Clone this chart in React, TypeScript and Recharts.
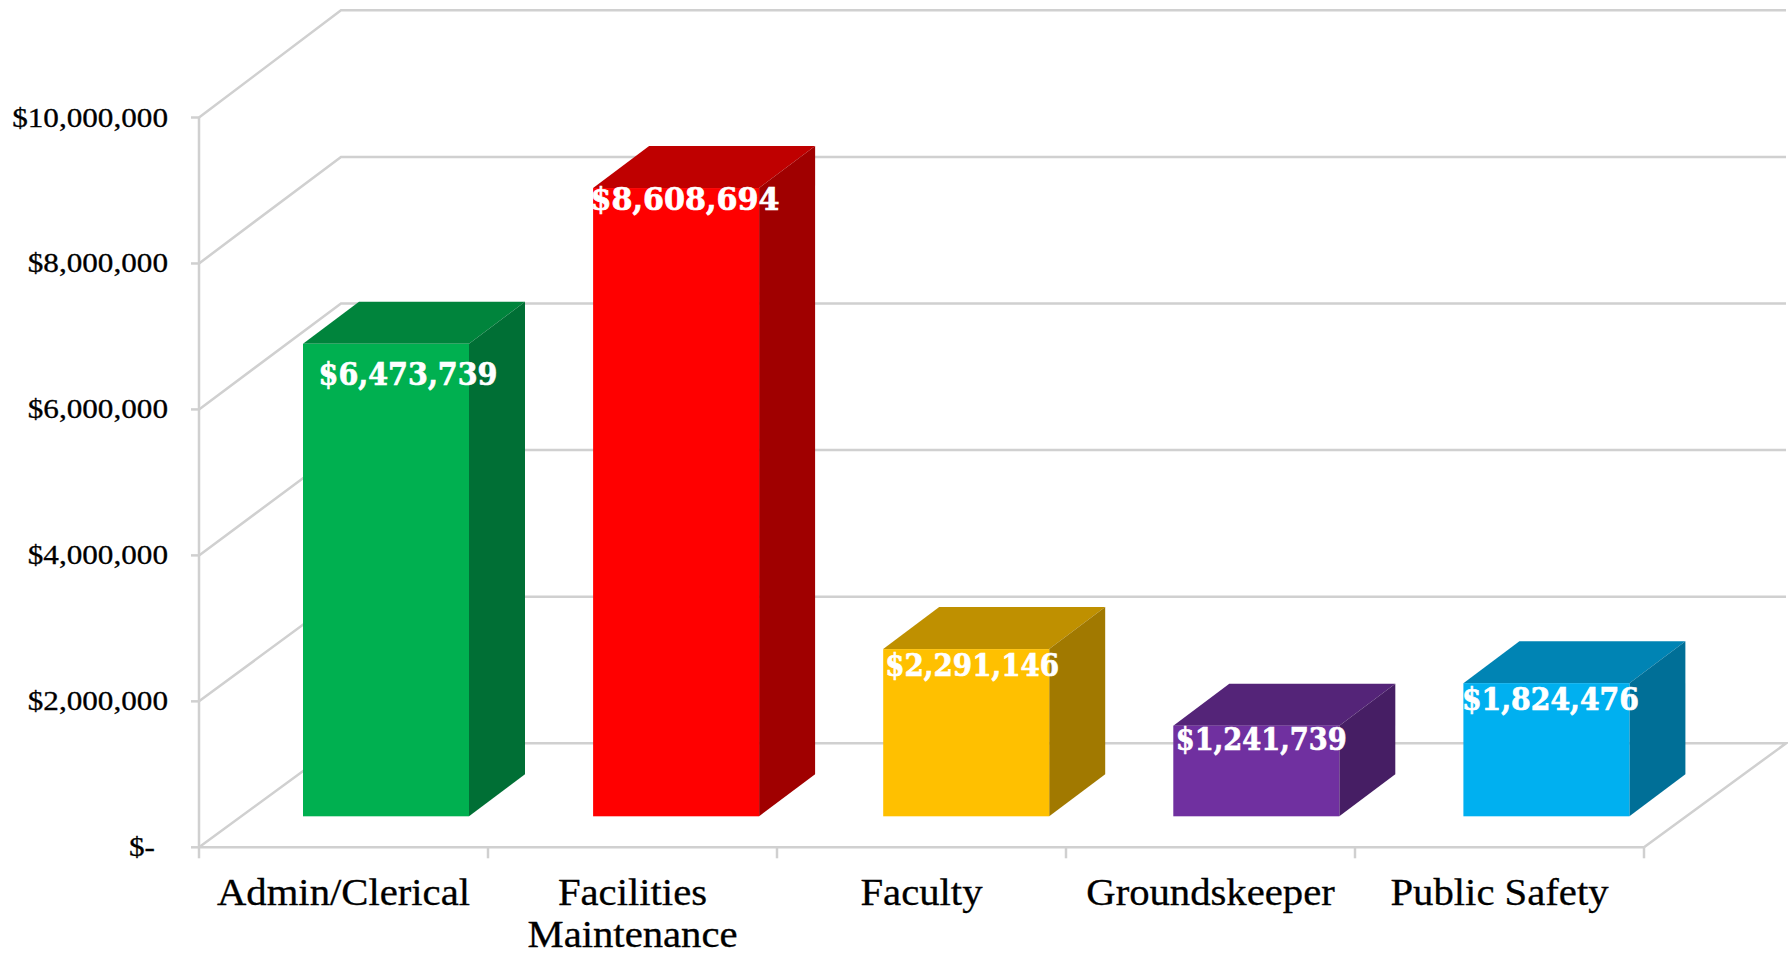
import { Bar, BarChart, CartesianGrid, LabelList, XAxis, YAxis } from "recharts"

const categories = ["Admin/Clerical", "Facilities\nMaintenance", "Faculty", "Groundskeeper", "Public Safety"]
const payroll = [6473739, 8608694, 2291146, 1241739, 1824476]
const yTicks = [0, 2000000, 4000000, 6000000, 8000000, 10000000]

// front, top and side face of each box
const frontColors = ["#00B050", "#FF0000", "#FFC000", "#7030A0", "#00B0F0"]
const topColors = ["#00843C", "#BF0000", "#BF9000", "#542478", "#0084B4"]
const sideColors = ["#006F35", "#A00000", "#A17900", "#461E64", "#006F97"]

// hand placed value labels: shift from the box front centre, drop below its top, text width
const labelDx = [22, 9, 6, 5, 4]
const labelDy = [29, 10, 15, 12, 15]
const labelWidth = [179, 189, 174, 171, 177]

const data = categories.map((name, i) => ({ name, value: payroll[i] }))

const WIDTH = 1788
const HEIGHT = 953
const PLOT_LEFT = 199
const PLOT_RIGHT = 1644
const PLOT_TOP = 117.5
const PLOT_BOTTOM = 847.3
const BAND = (PLOT_RIGHT - PLOT_LEFT) / categories.length

const WALL_DX = 142
const BOX_DX = 56
const BOX_DY = 42
const BOX_WIDTH = 166
const BOX_SHIFT_X = 42
const BOX_SHIFT_Y = 31
const BOX_SPREAD = 1.1

const GRID = "#d0d0d0"
const GRID_WIDTH = 2.5
const SERIF = "'Liberation Serif', serif"

const money = (v: number) => "$" + v.toLocaleString("en-US")

// back wall rises a touch faster than the front plane
const wallDy = (y: number) => 107.2 - (3.2 * (y - PLOT_TOP)) / (PLOT_BOTTOM - PLOT_TOP)

function depthLine(props: any) {
  const { x1, x2, y1, index } = props
  const by = y1 - wallDy(y1)
  const isFloor = Math.abs(y1 - PLOT_BOTTOM) < 1
  let d = `M${x1},${y1} L${x1 + WALL_DX},${by} L${x2 + WALL_DX},${by}`
  if (isFloor) d += ` L${x2},${y1}`
  return <path key={`wall-${index}-${y1}`} d={d} fill="none" stroke={GRID} strokeWidth={GRID_WIDTH} />
}

function Box(props: any) {
  const { x, y, height, index } = props
  const left = x + BOX_SHIFT_X + index * BOX_SPREAD
  const top = y - BOX_SHIFT_Y
  const right = left + BOX_WIDTH
  const bottom = top + height
  return (
    <g>
      <path d={`M${left},${top} L${left + BOX_DX},${top - BOX_DY} L${right + BOX_DX},${top - BOX_DY} L${right},${top} Z`} fill={topColors[index]} />
      <path d={`M${right},${top} L${right + BOX_DX},${top - BOX_DY} L${right + BOX_DX},${bottom - BOX_DY} L${right},${bottom} Z`} fill={sideColors[index]} />
      <rect x={left} y={top} width={BOX_WIDTH} height={height} fill={frontColors[index]} />
    </g>
  )
}

function ValueLabel(props: any) {
  const { x, y, value, index } = props
  const cx = x + BOX_SHIFT_X + index * BOX_SPREAD + BOX_WIDTH / 2 + labelDx[index]
  return (
    <text
      x={cx}
      y={y - BOX_SHIFT_Y + labelDy[index] + 12}
      textAnchor="middle"
      fill="#fff"
      stroke="#fff"
      strokeWidth={0.7}
      fontFamily="'DejaVu Serif', serif"
      fontWeight={700}
      fontSize={31}
      textLength={labelWidth[index]}
      lengthAdjust="spacingAndGlyphs"
    >
      {money(value)}
    </text>
  )
}

function MoneyTick(props: any) {
  const { x, y, payload } = props
  const isZero = payload.value === 0
  return (
    <text
      transform={`translate(${isZero ? x - 13 : x} ${y + 9}) scale(1.155 1)`}
      textAnchor="end"
      fontFamily={SERIF}
      fontSize={27}
      fill="#000"
      stroke="#000"
      strokeWidth={0.3}
    >
      {isZero ? "$-" : money(payload.value)}
    </text>
  )
}

function CategoryTick(props: any) {
  const { x, payload, index } = props
  const left = x - BAND / 2
  const lines = String(payload.value).split("\n")
  return (
    <g>
      <line x1={left} x2={left} y1={PLOT_BOTTOM} y2={PLOT_BOTTOM + 11} stroke={GRID} strokeWidth={GRID_WIDTH} />
      {index === categories.length - 1 && (
        <line x1={left + BAND} x2={left + BAND} y1={PLOT_BOTTOM} y2={PLOT_BOTTOM + 11} stroke={GRID} strokeWidth={GRID_WIDTH} />
      )}
      {lines.map((line, i) => (
        <text
          key={line}
          transform={`translate(${x} ${905 + i * 41.5}) scale(1.1 1)`}
          textAnchor="middle"
          fontFamily={SERIF}
          fontSize={37}
          fill="#000"
          stroke="#000"
          strokeWidth={0.3}
        >
          {line}
        </text>
      ))}
    </g>
  )
}

export default function App() {
  return (
    <div style={{ position: "absolute", left: 0, top: 0, width: WIDTH, height: HEIGHT, background: "#fff" }}>
      <BarChart
        width={WIDTH}
        height={HEIGHT}
        data={data}
        margin={{ top: PLOT_TOP, right: WIDTH - PLOT_RIGHT, bottom: 0, left: 0 }}
      >
        <CartesianGrid horizontal={depthLine} vertical={false} />
        <XAxis
          dataKey="name"
          height={HEIGHT - PLOT_BOTTOM}
          interval={0}
          tickLine={false}
          axisLine={{ stroke: GRID, strokeWidth: GRID_WIDTH }}
          tick={<CategoryTick />}
        />
        <YAxis
          width={PLOT_LEFT}
          domain={[0, 10000000]}
          ticks={yTicks}
          interval={0}
          tickSize={8}
          tickMargin={23}
          tickLine={{ stroke: GRID, strokeWidth: GRID_WIDTH }}
          axisLine={{ stroke: GRID, strokeWidth: GRID_WIDTH }}
          tick={<MoneyTick />}
        />
        <Bar dataKey="value" barSize={BOX_WIDTH} shape={<Box />} isAnimationActive={false}>
          <LabelList dataKey="value" content={<ValueLabel />} />
        </Bar>
      </BarChart>
    </div>
  )
}
